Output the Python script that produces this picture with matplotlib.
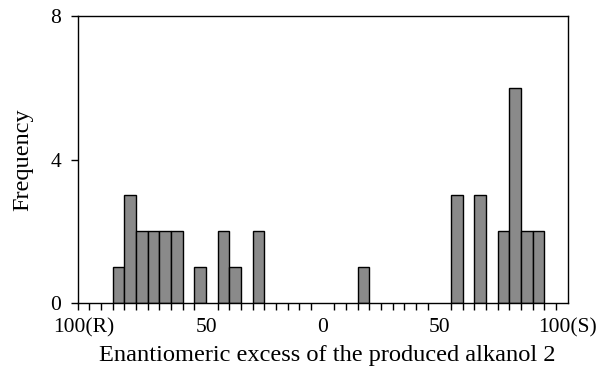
import matplotlib
matplotlib.use("Agg")
import matplotlib.pyplot as plt

# histogram bins (left edge, ee %; negative = R, positive = S), width 5
bin_left = [-90, -85, -80, -75, -70, -65, -55, -45, -40, -30,
            15, 55, 65, 75, 80, 85, 90]
counts = [1, 3, 2, 2, 2, 2, 1, 2, 1, 2,
          1, 3, 3, 2, 6, 2, 2]
bin_width = 5

tick_pos = [-102.5, -50, 0, 50, 105]
tick_labels = ["100(R)", "50", "0", "50", "100(S)"]

plt.rcParams["font.family"] = ["Liberation Serif", "DejaVu Serif"]

fig = plt.figure(figsize=(6, 3.66), dpi=100)
ax = fig.add_axes([0.1295, 0.172, 0.8167, 0.784])

ax.bar(bin_left, counts, width=bin_width, align="edge",
       color="#8a8a8a", edgecolor="black", linewidth=1.0, zorder=2)

ax.set_xlim(-105, 105)
ax.set_ylim(0, 8)
ax.set_xticks(tick_pos)
ax.set_xticklabels(tick_labels, fontsize=15.5)
ax.set_xticks(range(-105, 106, 5), minor=True)
ax.tick_params(axis="x", which="major", length=0, pad=11)
ax.tick_params(axis="x", which="minor", direction="out", length=5, width=1)
ax.set_yticks([0, 4, 8])
ax.tick_params(axis="y", direction="out", length=5, width=1, labelsize=15.5, pad=7)

for s in ax.spines.values():
    s.set_linewidth(1.0)

ax.set_xlabel("Enantiomeric excess of the produced alkanol 2", fontsize=17.6, labelpad=5)
ax.xaxis.label.set_x(0.51)
ax.set_ylabel("Frequency", fontsize=17.5, labelpad=12)

fig.savefig("out.png", dpi=100)
